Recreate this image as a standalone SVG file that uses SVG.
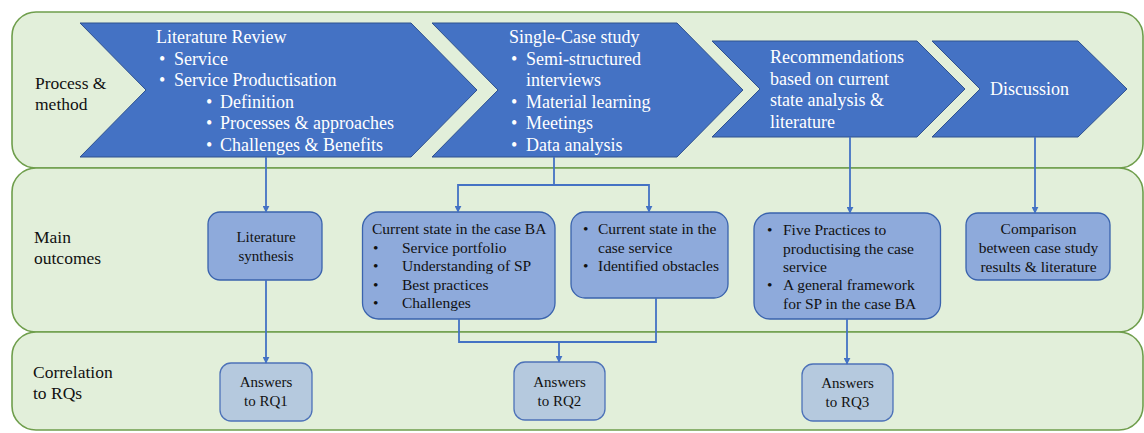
<svg xmlns="http://www.w3.org/2000/svg" width="1144" height="433" viewBox="0 0 1144 433">
  <style>
    .lane { fill: #e2efda; stroke: #6f9e4c; stroke-width: 1.6; }
    .chev { fill: #4472c4; stroke: #2f528f; stroke-width: 1; }
    .ctext { font-family: "Liberation Serif", "Times New Roman", serif; font-size: 18px; fill: #ffffff; }
    .lbl { font-family: "Liberation Serif", "Times New Roman", serif; font-size: 17.5px; fill: #111111; }
    .out { fill: #8eaadb; stroke: #3a63ad; stroke-width: 1.3; }
    .rq { fill: #b5c9de; stroke: #4d72b8; stroke-width: 1.3; }
    .btext { font-family: "Liberation Serif", "Times New Roman", serif; font-size: 15.5px; fill: #111111; }
    .rtext { font-family: "Liberation Serif", "Times New Roman", serif; font-size: 15px; fill: #111111; }
    .conn { fill: none; stroke: #4472c4; stroke-width: 1.8; }
    .mid { text-anchor: middle; }
  </style>
  <defs>
    <marker id="arr" viewBox="0 0 10 10" refX="9" refY="5" markerWidth="7" markerHeight="7" orient="auto" markerUnits="userSpaceOnUse">
      <path d="M0,0 L10,5 L0,10 z" fill="#4472c4"/>
    </marker>
  </defs>

  <!-- swimlanes -->
  <g id="lane-process">
    <rect class="lane" x="12" y="12" width="1131" height="156" rx="24" ry="24"/>
    <text class="lbl" x="35" y="89">Process &amp;</text>
    <text class="lbl" x="35" y="110">method</text>
  </g>
  <g id="lane-outcomes">
    <rect class="lane" x="12" y="168" width="1131" height="164" rx="24" ry="24"/>
    <text class="lbl" x="34" y="243">Main</text>
    <text class="lbl" x="34" y="264">outcomes</text>
  </g>
  <g id="lane-rqs">
    <rect class="lane" x="12" y="332" width="1131" height="98" rx="24" ry="24"/>
    <text class="lbl" x="33" y="378">Correlation</text>
    <text class="lbl" x="33" y="399">to RQs</text>
  </g>

  <!-- process chevrons -->
  <g id="lit-review">
    <polygon class="chev" points="80,23 411,23 477,90 411,157 80,157 146,90"/>
    <text class="ctext" x="156" y="43">Literature Review</text>
    <text class="ctext" x="159" y="64.5">•</text>
    <text class="ctext" x="174" y="64.5">Service</text>
    <text class="ctext" x="159" y="86">•</text>
    <text class="ctext" x="174" y="86">Service Productisation</text>
    <text class="ctext" x="206" y="107.5">•</text>
    <text class="ctext" x="220" y="107.5">Definition</text>
    <text class="ctext" x="206" y="129">•</text>
    <text class="ctext" x="220" y="129">Processes &amp; approaches</text>
    <text class="ctext" x="206" y="150.5">•</text>
    <text class="ctext" x="220" y="150.5">Challenges &amp; Benefits</text>
  </g>
  <g id="case-study">
    <polygon class="chev" points="432,23 677,23 743,90 677,157 432,157 498,90"/>
    <text class="ctext" x="509" y="43">Single-Case study</text>
    <text class="ctext" x="511" y="65">•</text>
    <text class="ctext" x="526" y="65">Semi-structured</text>
    <text class="ctext" x="526" y="86">interviews</text>
    <text class="ctext" x="511" y="107.5">•</text>
    <text class="ctext" x="526" y="107.5">Material learning</text>
    <text class="ctext" x="511" y="129">•</text>
    <text class="ctext" x="526" y="129">Meetings</text>
    <text class="ctext" x="511" y="150.5">•</text>
    <text class="ctext" x="526" y="150.5">Data analysis</text>
  </g>
  <g id="recommendations">
    <polygon class="chev" points="712,41 917,41 965,89 917,137 712,137 760,89"/>
    <text class="ctext" x="770" y="63">Recommendations</text>
    <text class="ctext" x="770" y="85">based on current</text>
    <text class="ctext" x="770" y="106">state analysis &amp;</text>
    <text class="ctext" x="770" y="127.5">literature</text>
  </g>
  <g id="discussion">
    <polygon class="chev" points="932,41 1078,41 1127,89 1078,137 932,137 980,89"/>
    <text class="ctext" x="990" y="95">Discussion</text>
  </g>

  <!-- outcome boxes -->
  <g id="lit-synthesis">
    <rect class="out" x="208" y="212" width="114" height="68" rx="12" ry="12"/>
    <text class="rtext mid" x="266" y="242">Literature</text>
    <text class="rtext mid" x="266" y="261">synthesis</text>
  </g>
  <g id="state-ba">
    <rect class="out" x="362.5" y="212" width="192.5" height="107" rx="16" ry="16"/>
    <text class="btext" x="372" y="234">Current state in the case BA</text>
    <text class="btext" x="373" y="252.5">•</text>
    <text class="btext" x="402" y="252.5">Service portfolio</text>
    <text class="btext" x="373" y="271">•</text>
    <text class="btext" x="402" y="271">Understanding of SP</text>
    <text class="btext" x="373" y="289.5">•</text>
    <text class="btext" x="402" y="289.5">Best practices</text>
    <text class="btext" x="373" y="308">•</text>
    <text class="btext" x="402" y="308">Challenges</text>
  </g>
  <g id="state-service">
    <rect class="out" x="571" y="212" width="157" height="86" rx="14" ry="14"/>
    <text class="btext" x="583" y="234">•</text>
    <text class="btext" x="598" y="234">Current state in the</text>
    <text class="btext" x="598" y="252.5">case service</text>
    <text class="btext" x="583" y="271">•</text>
    <text class="btext" x="598" y="271">Identified obstacles</text>
  </g>
  <g id="five-practices">
    <rect class="out" x="754" y="213" width="186.5" height="106" rx="16" ry="16"/>
    <text class="btext" x="767" y="235">•</text>
    <text class="btext" x="783" y="235">Five Practices to</text>
    <text class="btext" x="783" y="253.5">productising the case</text>
    <text class="btext" x="783" y="272">service</text>
    <text class="btext" x="767" y="290">•</text>
    <text class="btext" x="783" y="290">A general framework</text>
    <text class="btext" x="783" y="308.5">for SP in the case BA</text>
  </g>
  <g id="comparison">
    <rect class="out" x="966" y="213" width="144" height="67" rx="12" ry="12"/>
    <text class="btext mid" x="1038.5" y="234">Comparison</text>
    <text class="btext mid" x="1038.5" y="253">between case study</text>
    <text class="btext mid" x="1038.5" y="271.5">results &amp; literature</text>
  </g>

  <!-- research question boxes -->
  <g id="rq1">
    <rect class="rq" x="220" y="363" width="92" height="58" rx="11" ry="11"/>
    <text class="rtext mid" x="266" y="387">Answers</text>
    <text class="rtext mid" x="266" y="406">to RQ1</text>
  </g>
  <g id="rq2">
    <rect class="rq" x="514" y="362" width="91" height="58" rx="11" ry="11"/>
    <text class="rtext mid" x="559.5" y="387">Answers</text>
    <text class="rtext mid" x="559.5" y="406">to RQ2</text>
  </g>
  <g id="rq3">
    <rect class="rq" x="802" y="364" width="91" height="57" rx="11" ry="11"/>
    <text class="rtext mid" x="847.5" y="388">Answers</text>
    <text class="rtext mid" x="847.5" y="407">to RQ3</text>
  </g>

  <!-- connectors -->
  <g id="connectors">
    <path class="conn" d="M266,157 V212" marker-end="url(#arr)"/>
    <path class="conn" d="M554,157 V185 H458 V212" marker-end="url(#arr)"/>
    <path class="conn" d="M554,185 H649 V212" marker-end="url(#arr)"/>
    <path class="conn" d="M850,137 V213" marker-end="url(#arr)"/>
    <path class="conn" d="M1035,137 V213" marker-end="url(#arr)"/>
    <path class="conn" d="M266,280 V363" marker-end="url(#arr)"/>
    <path class="conn" d="M459,319 V342 H656 V298"/>
    <path class="conn" d="M559,342 V362" marker-end="url(#arr)"/>
    <path class="conn" d="M847,319 V364" marker-end="url(#arr)"/>
  </g>
</svg>
